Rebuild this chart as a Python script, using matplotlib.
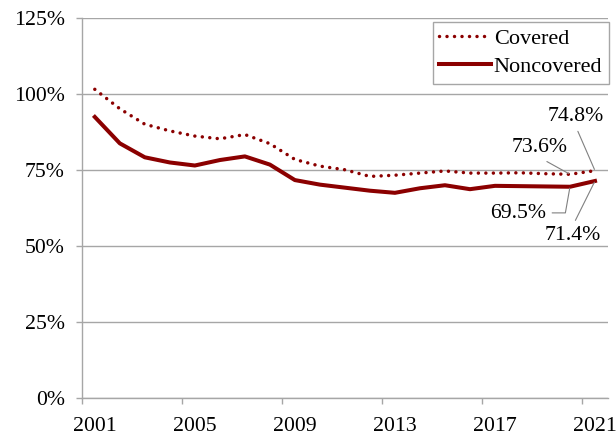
import matplotlib
matplotlib.use("Agg")
import matplotlib.pyplot as plt
import numpy as np

years = list(range(2001, 2022))
covered = [101.6, 95.2, 90.1, 87.9, 86.2, 85.3, 86.7, 83.7, 78.5, 76.3, 75.1,
           72.9, 73.3, 74.0, 74.7, 74.0, 74.0, 74.1, 73.8, 73.6, 74.8]
noncovered = [92.5, 83.8, 79.2, 77.5, 76.5, 78.3, 79.5, 76.8, 71.7, 70.2, 69.2,
              68.2, 67.5, 69.0, 70.0, 68.7, 69.8, 69.7, 69.6, 69.5, 71.4]
y_ticks = [0, 25, 50, 75, 100, 125]
x_label_years = [2001, 2005, 2009, 2013, 2017, 2021]

plt.rcParams['font.family'] = ['Liberation Serif', 'DejaVu Serif']

RED = '#8B0000'
GRID = '#A6A6A6'
FS = 15.7

fig = plt.figure(figsize=(6.16, 4.36), dpi=100)
ax = fig.add_axes([82.3 / 616, 38.3 / 436, (607.5 - 82.3) / 616, (397.7 - 18.3) / 436])

x = np.arange(len(years))
cov = np.array(covered) / 100
non = np.array(noncovered) / 100

ax.plot(x, cov, color=RED, lw=2.5, linestyle=(0, (0.01, 2.15)),
        dash_capstyle='round', solid_capstyle='round', label='Covered', zorder=3)
ax.plot(x, non, color=RED, lw=2.9, solid_joinstyle='round', label='Noncovered', zorder=3)

ax.set_xlim(-0.5, len(years) - 0.5)
ax.set_ylim(0, 1.25)

ax.set_yticks([v / 100 for v in y_ticks])
ax.set_yticklabels([f"{v}%" for v in y_ticks], fontsize=FS)
ax.yaxis.grid(True, color=GRID, lw=1.0)
ax.set_axisbelow(True)

# category labels at centres, tick marks on category boundaries
label_pos = [years.index(y) for y in x_label_years]
ax.set_xticks(label_pos)
ax.set_xticklabels([str(y) for y in x_label_years], fontsize=FS)
ax.tick_params(axis='x', which='major', length=0, pad=14)
ax.set_xticks([p - 0.5 for p in label_pos], minor=True)
ax.tick_params(axis='x', which='minor', length=4.2, color=GRID, width=1.0)
ax.tick_params(axis='y', which='major', length=4.2, color=GRID, width=1.0, pad=8.5)

for s in ['top', 'right']:
    ax.spines[s].set_visible(False)
for s in ['left', 'bottom']:
    ax.spines[s].set_color(GRID)
    ax.spines[s].set_linewidth(1.0)

leg = ax.legend(loc='upper right', bbox_to_anchor=(609 / 616, 1 - 21.7 / 436),
                bbox_transform=fig.transFigure, borderaxespad=0, fontsize=16,
                fancybox=False, edgecolor=GRID, framealpha=1, handlelength=2.3,
                handletextpad=0.15, labelspacing=0.35, borderpad=0.3)
leg.get_frame().set_linewidth(1.0)

lead = dict(arrowstyle='-', color='#808080', lw=0.8, shrinkA=2, shrinkB=1)
i_last = len(years) - 1
i_prev = len(years) - 2
ax.annotate(f"{covered[i_last]}%", xy=(i_last, cov[i_last]), xytext=(-14, 39),
            textcoords='offset points', ha='center', va='center', fontsize=FS,
            arrowprops=dict(lead, relpos=(0.5, 0)))
ax.annotate(f"{covered[i_prev]}%", xy=(i_prev, cov[i_prev]), xytext=(-22, 19),
            textcoords='offset points', ha='center', va='center', fontsize=FS,
            arrowprops=dict(lead, relpos=(0.5, 0)))
ax.annotate(f"{noncovered[i_prev]}%", xy=(i_prev, non[i_prev]), xytext=(-37, -19.5),
            textcoords='offset points', ha='center', va='center', fontsize=FS,
            arrowprops=dict(lead, relpos=(1, 0.55),
                            connectionstyle="angle,angleA=0,angleB=80,rad=0"))
ax.annotate(f"{noncovered[i_last]}%", xy=(i_last, non[i_last]), xytext=(-16, -39),
            textcoords='offset points', ha='center', va='center', fontsize=FS,
            arrowprops=dict(lead, relpos=(0.5, 1)))

fig.savefig('out.png', dpi=100)
